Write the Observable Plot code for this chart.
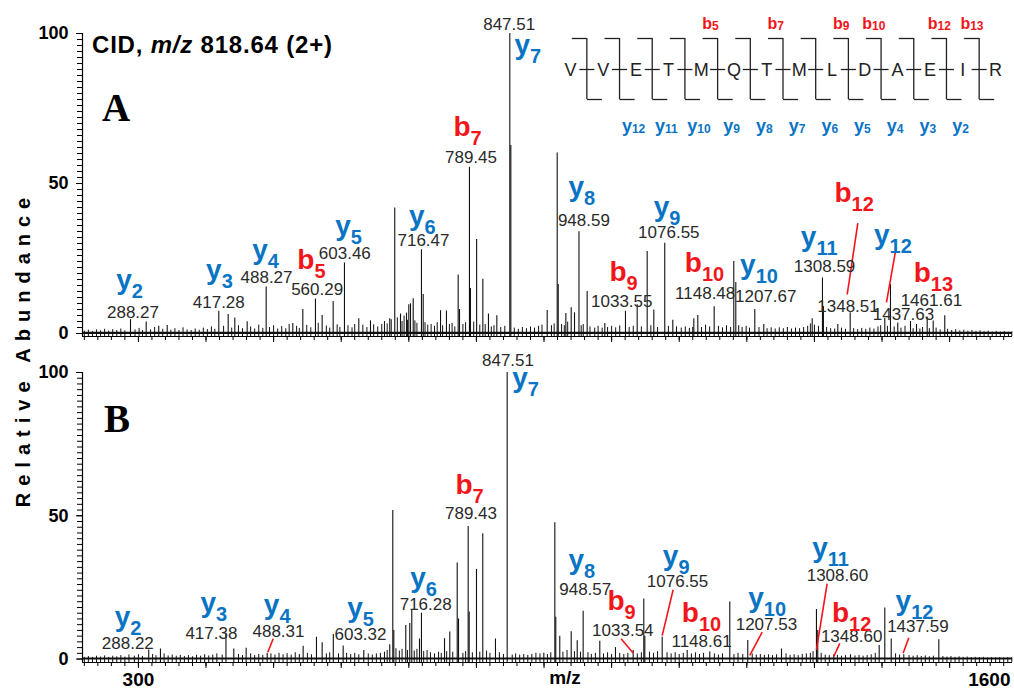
<!DOCTYPE html>
<html><head><meta charset="utf-8">
<script src="https://cdn.jsdelivr.net/npm/d3@7"></script>
<script src="https://cdn.jsdelivr.net/npm/@observablehq/plot@0.6"></script>
<style>
html,body{margin:0;padding:0;background:#fff;}
#fig{position:relative;width:1014px;height:689px;overflow:hidden;font-family:"Liberation Sans",Arial,sans-serif;}
#fig svg{position:absolute;left:0;top:0;}
</style></head><body><div id="fig"></div>
<script>
// ---------------- DATA ----------------
// Panel A (CID) main peaks: [m/z, relative abundance %]
const peaksA = [[288.3,4.6],[311.5,3.8],[330.1,2.4],[342.6,2.7],[418.9,7.4],[432.8,6.3],[442.6,5.2],[460.9,3.9],[489.0,15.5],[528.4,3.3],[543.2,8.0],[561.9,11.5],[571.8,6.0],[588.1,10.7],[604.8,23.5],[626.0,4.9],[643.3,4.2],[671.8,4.9],[679.2,41.8],[687.7,6.5],[696.6,6.8],[700.0,9.6],[702.5,9.9],[706.5,11.6],[718.7,27.9],[721.3,13.0],[746.9,7.6],[755.7,7.5],[773.0,19.5],[775.0,8.0],[789.7,55.4],[791.2,15.0],[800.3,31.3],[809.5,18.1],[817.8,6.5],[830.2,5.9],[849.4,100],[850.9,62.7],[904.7,7.7],[919.5,60.2],[921.0,16.3],[932.3,6.7],[940.2,8.6],[945.1,6.9],[951.7,33.9],[963.8,14.0],[989.9,3.3],[1020.5,7.4],[1037.8,9.6],[1052.6,27.3],[1062.4,7.8],[1078.6,30.1],[1090.5,4.4],[1121.6,4.9],[1127.5,6.0],[1151.7,8.9],[1180.7,24.0],[1183.7,17.0],[1211.8,8.0],[1225.1,3.0],[1296.7,4.9],[1311.9,18.5],[1313.3,9.0],[1334.6,3.0],[1352.9,6.9],[1404.1,5.0],[1412.5,16.3],[1423.3,3.5],[1442.1,4.0],[1451.0,3.0],[1466.8,5.4],[1475.7,4.2],[1492.8,5.9]];
// Panel A small background peaks
const noiseA = [[220,0.8],[226,1.1],[232,0.7],[238,1.2],[244,0.9],[250,1.4],[256,0.8],[262,1.3],[268,1.0],[274,1.5],[280,0.9],[295,1.2],[301,1.7],[306,1.0],[318,1.2],[324,2.0],[336,1.4],[348,1.1],[354,1.6],[360,1.0],[366,1.9],[372,1.2],[378,1.0],[384,1.5],[390,1.1],[396,1.8],[402,1.3],[408,2.2],[413,1.4],[426,2.4],[438,1.8],[448,2.6],[454,1.6],[466,2.2],[472,1.5],[478,2.8],[484,1.7],[494,2.0],[500,2.6],[506,1.5],[512,2.3],[518,1.6],[523,3.0],[534,2.4],[538,1.7],[549,2.7],[555,1.9],[566,3.4],[578,2.5],[583,1.8],[594,2.9],[598,2.0],[610,2.6],[616,1.9],[620,3.0],[632,2.8],[638,2.0],[648,2.9],[654,2.2],[660,3.0],[664,4.0],[668,3.2],[674,4.6],[683,5.2],[690,4.0],[693,5.8],[698,4.4],[709,4.2],[712,3.4],[724,3.6],[728,2.8],[733,3.0],[738,2.4],[742,3.6],[750,2.6],[760,3.0],[764,3.4],[768,2.2],[780,3.0],[784,3.6],[796,3.8],[805,2.8],[813,3.0],[822,2.2],[826,2.6],[836,2.0],[842,2.4],[856,1.8],[862,1.4],[868,2.0],[874,1.6],[880,2.2],[886,1.8],[892,2.4],[897,2.8],[911,2.6],[915,3.2],[926,3.0],[930,2.6],[935,3.8],[955,2.6],[958,3.0],[968,2.2],[975,1.8],[980,2.4],[986,1.8],[994,2.0],[1000,2.4],[1006,1.9],[1012,2.5],[1026,2.0],[1032,2.4],[1044,2.2],[1058,2.6],[1068,2.0],[1084,2.4],[1096,2.2],[1103,1.8],[1109,2.2],[1115,1.7],[1120,2.0],[1133,2.0],[1139,2.8],[1145,2.2],[1158,2.4],[1164,1.9],[1170,2.6],[1176,2.0],[1188,2.6],[1193,2.0],[1199,2.4],[1204,1.8],[1218,2.0],[1230,1.6],[1236,1.9],[1242,1.5],[1248,1.9],[1254,1.6],[1260,2.0],[1266,1.5],[1272,1.8],[1278,1.6],[1284,2.0],[1290,2.4],[1294,3.2],[1300,2.8],[1306,2.4],[1318,2.0],[1324,1.6],[1330,1.5],[1340,1.8],[1346,1.4],[1358,1.6],[1364,1.3],[1370,1.7],[1376,1.4],[1382,1.8],[1388,1.5],[1394,2.2],[1398,2.6],[1408,2.4],[1418,2.2],[1428,1.8],[1434,2.4],[1446,1.6],[1456,1.5],[1460,2.0],[1470,1.6],[1480,1.8],[1486,1.2],[1497,1.4],[1503,1.0],[1509,1.3],[1515,0.9],[1521,1.1],[1527,0.8],[1533,1.0],[1539,0.7],[1545,0.9],[1551,0.6],[1557,0.8],[1563,0.5],[1569,0.7],[1575,0.5],[1581,0.6],[1587,0.4],[1592,0.5]];
// Panel A annotations: [ion, index, m/z position, abundance position]
const ionsA = [["y","2",287,15],["y","3",419.9,18.3],["y","4",488,24.7],["b","5",556,21.6],["y","5",611,32.7],["y","6",720,36.3],["b","7",786.8,66],["y","7",876,93.3],["y","8",956,46],["b","9",1017.6,17.4],["y","9",1082,39.3],["b","10",1137.4,20.4],["y","10",1218,19.9],["y","11",1307,29.3],["b","12",1358.8,43.8],["y","12",1416,29.9],["b","13",1476,17.1]];
const mzLabelsA = [["288.27",292,5.3],["417.28",418.9,8.4],["488.27",489.5,16.9],["560.29",564.4,12.9],["603.46",605.3,24.9],["716.47",721.7,29.3],["789.45",792,56.9],["847.51",848.5,101.2],["948.59",959,35.7],["1033.55",1015,9],["1076.55",1084.6,31.9],["1148.48",1138.4,11.6],["1207.67",1228,10.4],["1308.59",1315,20.4],["1348.51",1349.7,7.1],["1437.63",1431.7,4.6],["1461.61",1473,9.3]];
const leadersA = [[1364.2,36.8,1348.5,13],[1419.9,27.4,1406.6,10.4]];

// Panel B main peaks
const peaksB = [[315.3,3.2],[332.6,3.5],[429.5,9.0],[441.1,3.5],[459.4,3.8],[490.5,2.0],[543.7,4.5],[563.4,7.6],[571.8,5.7],[588.3,8.6],[602.9,4.6],[633.4,3.0],[671.8,5.0],[676.3,51.8],[677.8,10.0],[695.5,11.7],[701.4,12.4],[704.4,17.0],[715.8,7.0],[718.7,16.0],[752.8,7.1],[760.6,9.4],[771.6,33.5],[773.5,14.0],[787.8,46.3],[789.3,16.4],[800.1,31.3],[809.4,43.7],[828.2,7.0],[845.5,100],[899.7,2.0],[916.0,47.6],[917.4,14.6],[923.3,8.0],[940.2,9.5],[949.1,6.4],[957.9,16.7],[982.5,6.2],[1005.7,4.0],[1031.9,3.0],[1047.6,21.0],[1049.1,8.0],[1074.8,7.6],[1111.8,3.0],[1145.2,2.5],[1174.8,19.9],[1201.4,6.5],[1251.3,3.5],[1303.0,17.3],[1304.9,10.0],[1328.6,1.5],[1353.3,1.5],[1395.8,4.7],[1404.1,17.8],[1413.6,7.0],[1432.2,1.5],[1484.0,6.7]];
const noiseB = [[220,0.6],[226,0.9],[232,0.6],[238,1.0],[244,0.7],[250,1.1],[256,0.6],[262,1.0],[268,0.8],[274,1.2],[280,0.7],[286,1.4],[294,1.0],[300,1.5],[306,0.9],[321,1.6],[326,1.2],[338,1.8],[344,1.1],[350,1.4],[356,1.0],[362,1.3],[368,0.9],[374,1.2],[380,0.8],[386,1.3],[392,1.0],[398,1.5],[404,1.1],[410,1.4],[416,1.8],[424,1.4],[448,1.6],[454,1.2],[466,1.8],[472,1.2],[478,1.6],[484,1.3],[496,1.8],[502,1.4],[508,2.0],[514,1.5],[520,1.9],[526,1.4],[532,2.2],[538,1.6],[550,2.0],[556,1.5],[578,1.8],[583,2.2],[596,1.8],[608,2.0],[614,1.6],[620,2.0],[626,1.5],[640,1.8],[646,1.4],[652,1.8],[658,2.0],[664,2.4],[668,3.0],[681,3.6],[686,2.8],[690,3.4],[698,3.0],[708,2.8],[712,3.4],[722,2.6],[727,3.0],[732,2.2],[738,1.8],[744,2.4],[748,2.0],[756,2.6],[765,2.4],[780,2.0],[784,2.6],[794,2.2],[805,2.4],[815,2.8],[820,2.0],[834,2.2],[840,1.6],[853,1.4],[858,1.8],[864,1.4],[870,1.6],[876,1.3],[882,1.6],[888,2.0],[894,1.8],[905,1.6],[910,2.2],[928,2.4],[934,3.0],[945,2.6],[954,2.4],[965,2.2],[970,1.6],[976,2.0],[988,1.8],[994,2.2],[1000,1.6],[1012,2.0],[1018,1.6],[1024,2.0],[1038,1.8],[1044,2.2],[1056,2.4],[1062,2.0],[1068,2.6],[1082,2.2],[1088,1.8],[1094,2.2],[1100,1.6],[1106,2.0],[1118,1.8],[1124,2.2],[1130,1.6],[1136,2.0],[1152,1.8],[1158,1.4],[1164,1.8],[1181,1.6],[1187,2.0],[1194,1.6],[1208,1.8],[1214,1.4],[1220,1.6],[1226,1.3],[1232,1.5],[1238,1.2],[1244,1.5],[1258,1.8],[1264,1.3],[1270,1.5],[1276,1.2],[1282,1.6],[1288,1.8],[1294,2.0],[1298,2.6],[1310,2.0],[1316,1.4],[1322,1.2],[1334,1.3],[1340,1.0],[1346,1.2],[1360,1.1],[1366,1.3],[1372,1.0],[1378,1.2],[1384,1.5],[1390,2.0],[1420,1.8],[1426,1.4],[1440,1.2],[1446,1.0],[1452,1.2],[1458,0.9],[1464,1.1],[1470,0.8],[1476,1.0],[1490,0.9],[1496,0.7],[1502,0.9],[1508,0.6],[1514,0.8],[1520,0.6],[1526,0.7],[1532,0.5],[1538,0.6],[1544,0.5],[1550,0.6],[1556,0.4],[1562,0.5],[1568,0.4],[1574,0.5],[1580,0.4],[1586,0.5],[1592,0.4]];
const ionsB = [["y","2",284.6,11.7],["y","3",411.5,16.4],["y","4",505.3,15.8],["y","5",628.5,14.6],["y","6",721.7,25.1],["b","7",789.8,57.7],["y","7",872.6,94.9],["y","8",956,31.5],["b","9",1014.7,17],["y","9",1095.5,32.7],["b","10",1133,12.9],["y","10",1230,18.1],["y","11",1323.8,35.6],["b","12",1355,12.9],["y","12",1448,17]];
const mzLabelsB = [["288.22",284.3,3.6],["417.38",408,7.1],["488.31",507.2,7.6],["603.32",628.5,6.5],["716.28",725,17.2],["789.43",792,49],["847.51",846.7,102.4],["948.57",961,22.2],["1033.54",1016.6,8.2],["1076.55",1097.5,25.1],["1148.61",1133,4.2],["1207.53",1229,10.2],["1308.60",1334,27.4],["1348.60",1355,5.9],["1437.59",1453,9.4]];
const leadersB = [[499.4,7.1,491.4,2.4],[1014,7.1,1031.8,2.1],[1091,24.2,1074.8,8.2],[1222.7,9.4,1204.4,1.3],[1318.8,26.3,1303,3.2],[1337.5,5.5,1328.6,0.9],[1439.6,7.4,1431.3,2.1]];

// Peptide sequence and observed fragment ions
const sequence = ["V","V","E","T","M","Q","T","M","L","D","A","E","I","R"];
const bIonsSeq = [5,7,9,10,12,13];
const yIonsSeq = [12,11,10,9,8,7,6,5,4,3,2];

// Axis tick labels
const yTickLabels = [0, 50, 100];
const xTickLabels = [300, 1600];

// ---------------- LAYOUT / STYLE ----------------
const W = 1014, H = 689;
const xDomain = [217.3, 1593];
const BLUE = "#0a74c4", RED = "#f2161b", INK = "#111", LABEL = "#2a2a2a";
const FONT = "Liberation Sans, Arial, Helvetica, sans-serif";
const fig = document.getElementById("fig");

function subscripts(svg, subSize, dy) {
  svg.querySelectorAll("text").forEach(t => {
    const s = t.textContent, k = s.indexOf("|");
    if (k < 0) return;
    t.textContent = "";
    const ns = "http://www.w3.org/2000/svg";
    const a = document.createElementNS(ns, "tspan"); a.textContent = s.slice(0, k);
    const b = document.createElementNS(ns, "tspan"); b.textContent = s.slice(k + 1);
    b.setAttribute("font-size", subSize); b.setAttribute("dy", dy);
    t.append(a, b);
  });
}

function spectrum({peaks, noise, ions, mzLabels, leaders, top, bottom, yMin, xLabels}) {
  const marks = [
    Plot.ruleY([0.2], {stroke: INK, strokeWidth: 2.2}),
    Plot.ruleX(noise, {x: d => d[0], y1: yMin, y2: d => d[1], stroke: INK, strokeWidth: 1}),
    Plot.ruleX(peaks, {x: d => d[0], y1: yMin, y2: d => d[1], stroke: INK, strokeWidth: 1.1}),
    Plot.ruleY([yMin], {stroke: "#000", strokeWidth: 1.2}),
    Plot.ruleX([xDomain[0]], {y1: yMin, y2: 100, stroke: "#000", strokeWidth: 1.2}),
    Plot.axisY(d3.range(0, 101, 2), {tickSize: 5, tickFormat: () => "", stroke: "#000"}),
    Plot.axisY(yTickLabels, {tickSize: 6, tickPadding: 8, fontSize: 18, fontWeight: "bold", fill: "#000", stroke: "#000"}),
    Plot.axisX(d3.range(220, xDomain[1], 20), {tickSize: 4, tickFormat: () => "", stroke: "#000"}),
    Plot.axisX(d3.range(300, xDomain[1], 100), {tickSize: 6, tickFormat: () => "", stroke: "#000"}),
    Plot.link(leaders, {x1: d => d[0], y1: d => d[1], x2: d => d[2], y2: d => d[3], stroke: RED, strokeWidth: 1.6}),
    Plot.text(mzLabels, {x: d => d[1], y: d => d[2], text: d => d[0], fontSize: 17, fill: LABEL, lineAnchor: "bottom"}),
    Plot.text(ions.filter(d => d[0] === "y"), {x: d => d[2], y: d => d[3], text: d => d[0] + "|" + d[1], fill: BLUE, fontSize: 28, fontWeight: "bold", lineAnchor: "bottom"}),
    Plot.text(ions.filter(d => d[0] === "b"), {x: d => d[2], y: d => d[3], text: d => d[0] + "|" + d[1], fill: RED, fontSize: 28, fontWeight: "bold", lineAnchor: "bottom"})
  ];
  if (xLabels) {
    marks.push(Plot.text(xTickLabels.filter(d => d <= xDomain[1]), {x: d => d, frameAnchor: "bottom", dy: 23, lineAnchor: "bottom", text: d => String(d), fontSize: 19, fontWeight: "bold", fill: "#000"}));
    marks.push(Plot.text(xTickLabels.filter(d => d > xDomain[1]), {x: () => xDomain[1], frameAnchor: "bottom", dy: 23, dx: -2, lineAnchor: "bottom", textAnchor: "end", text: d => String(d), fontSize: 19, fontWeight: "bold", fill: "#000"}));
  }
  const svg = Plot.plot({
    width: W, height: H,
    marginLeft: 82, marginRight: W - 1012, marginTop: top, marginBottom: H - bottom,
    x: {domain: xDomain, label: null},
    y: {domain: [yMin, 100], label: null},
    style: {background: "transparent", overflow: "visible", fontFamily: FONT},
    marks
  });
  subscripts(svg, 20, 9);
  return svg;
}

fig.append(spectrum({peaks: peaksA, noise: noiseA, ions: ionsA, mzLabels: mzLabelsA, leaders: leadersA, top: 33, bottom: 336, yMin: -1, xLabels: false}));
fig.append(spectrum({peaks: peaksB, noise: noiseB, ions: ionsB, mzLabels: mzLabelsB, leaders: leadersB, top: 372, bottom: 662, yMin: -1.2, xLabels: true}));

// Peptide fragmentation diagram
const L = {bY: 28, hookTop: 38, dashY: 69, resY: 75, hookBot: 99, yY: 131, hook: 0.46};
const bonds = d3.range(sequence.length - 1);
const diag = Plot.plot({
  width: W, height: H, marginLeft: 570, marginRight: W - 995, marginTop: 0, marginBottom: 0,
  x: {domain: [0, sequence.length - 1], axis: null},
  y: {domain: [0, H], range: [0, H], axis: null},
  style: {background: "transparent", overflow: "visible", fontFamily: FONT},
  marks: [
    Plot.link(bonds, {x1: b => b + 0.27, x2: b => b + 0.73, y1: L.dashY, y2: L.dashY, stroke: "#222", strokeWidth: 1.3}),
    Plot.ruleX(bonds, {x: b => b + 0.5, y1: L.hookTop, y2: L.hookBot, stroke: "#222", strokeWidth: 1.3}),
    Plot.link(bonds, {x1: b => b + 0.5 - L.hook, x2: b => b + 0.5, y1: L.hookTop, y2: L.hookTop, stroke: "#222", strokeWidth: 1.3}),
    Plot.link(bonds, {x1: b => b + 0.5, x2: b => b + 0.5 + L.hook, y1: L.hookBot, y2: L.hookBot, stroke: "#222", strokeWidth: 1.3}),
    Plot.text(sequence, {x: (d, i) => i, y: L.resY, text: d => d, fontSize: 18, fill: "#222", lineAnchor: "bottom"}),
    Plot.text(bIonsSeq, {x: k => k - 0.5 - 0.22, y: L.bY, text: k => "b|" + k, fill: RED, fontSize: 16, fontWeight: "bold", lineAnchor: "bottom"}),
    Plot.text(yIonsSeq, {x: n => sequence.length - 0.5 - n + 0.43, y: L.yY, text: n => "y|" + n, fill: BLUE, fontSize: 18, fontWeight: "bold", lineAnchor: "bottom"})
  ]
});
subscripts(diag, 12, 1);
fig.append(diag);

// Titles and axis titles
const ov = d3.create("svg").attr("width", W).attr("height", H).style("font-family", FONT).style("overflow", "visible");
const t = ov.append("text").attr("x", 92).attr("y", 53).attr("font-size", 24).attr("font-weight", "bold").attr("letter-spacing", 0.8).attr("fill", "#000");
t.append("tspan").text("CID, ");
t.append("tspan").attr("font-style", "italic").text("m/z");
t.append("tspan").text(" 818.64 (2+)");
ov.append("text").attr("x", 102).attr("y", 121).attr("font-family", "Liberation Serif, Times New Roman, serif").attr("font-size", 39).attr("font-weight", "bold").text("A");
ov.append("text").attr("x", 104).attr("y", 432).attr("font-family", "Liberation Serif, Times New Roman, serif").attr("font-size", 39).attr("font-weight", "bold").text("B");
ov.append("text").attr("transform", "translate(30,349) rotate(-90)").attr("text-anchor", "middle").attr("font-size", 20).attr("font-weight", "bold").attr("letter-spacing", 7).text("Relative Abundance");
ov.append("text").attr("x", 565).attr("y", 684).attr("text-anchor", "middle").attr("font-size", 19).attr("font-weight", "bold").text("m/z");
fig.append(ov.node());
</script></body></html>
